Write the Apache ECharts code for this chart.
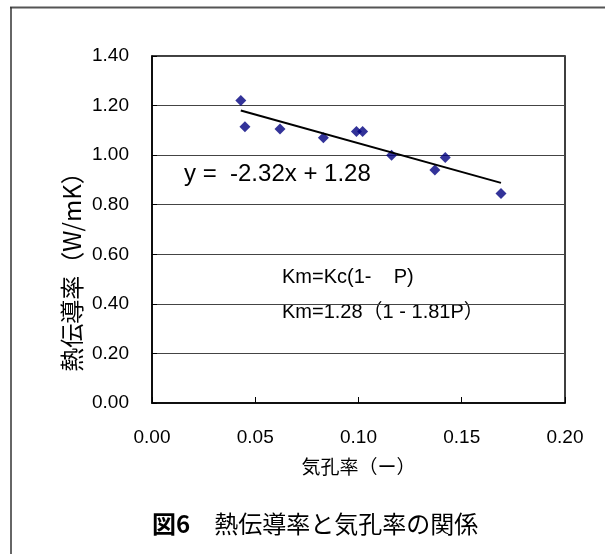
<!DOCTYPE html>
<html>
<head>
<meta charset="utf-8">
<script src="https://cdn.jsdelivr.net/npm/echarts@6/dist/echarts.min.js"></script>
<style>
  html, body { margin: 0; padding: 0; background: #fff; }
  #chart { width: 605px; height: 554px; }
</style>
</head>
<body>
<div id="chart"></div>
<script>
// 気孔率 (x) と 熱伝導率 (y)
var porosity = [0.043, 0.045, 0.062, 0.083, 0.099, 0.102, 0.116, 0.137, 0.142, 0.169];
var conductivity = [1.22, 1.115, 1.105, 1.07, 1.095, 1.095, 1.0, 0.94, 0.99, 0.845];

// 近似直線の両端
var trendX = [0.043, 0.169];
var trendY = [1.18, 0.888];

var xTicks = ['0.00', '0.05', '0.10', '0.15', '0.20'];
var yTicks = ['0.00', '0.20', '0.40', '0.60', '0.80', '1.00', '1.20', '1.40'];

var latin = "'Liberation Sans', Arial, 'Noto Sans CJK JP', sans-serif";
var jp = "'Noto Sans CJK JP', sans-serif";

var points = porosity.map(function (x, i) { return [x, conductivity[i]]; });
var trend = trendX.map(function (x, i) { return [x, trendY[i]]; });

var myChart = echarts.init(document.getElementById('chart'));
var option = {
  backgroundColor: '#fff',
  animation: false,
  grid: {
    left: 152, top: 56, right: 40, bottom: 151,
    show: true, borderColor: '#000', borderWidth: 1.5
  },
  xAxis: {
    type: 'value', min: 0, max: 0.2, interval: 0.05,
    axisLine: { lineStyle: { color: '#000', width: 1.5 } },
    axisTick: { inside: true, length: 6, lineStyle: { color: '#000' } },
    axisLabel: {
      margin: 25, fontSize: 19, fontFamily: latin, color: '#000',
      formatter: function (v) { return xTicks[Math.round(v / 0.05)]; }
    },
    splitLine: { show: false },
    name: '気孔率（ー）', nameLocation: 'middle', nameGap: 54,
    nameTextStyle: { fontSize: 19, fontFamily: jp, color: '#000' }
  },
  yAxis: {
    type: 'value', min: 0, max: 1.4, interval: 0.2,
    axisLine: { show: true, lineStyle: { color: '#000', width: 1.5 } },
    axisTick: { inside: true, length: 5, lineStyle: { color: '#000' } },
    axisLabel: {
      margin: 23, fontSize: 19, fontFamily: latin, color: '#000',
      formatter: function (v) { return yTicks[Math.round(v / 0.2)]; }
    },
    splitLine: { show: true, lineStyle: { color: '#444', width: 1 } }
  },
  series: [
    {
      type: 'scatter', data: points, symbol: 'diamond', symbolSize: 11,
      itemStyle: { color: '#000080' }, z: 3
    },
    {
      type: 'line', data: trend, symbol: 'none',
      lineStyle: { color: '#000', width: 2 }, z: 4
    }
  ],
  graphic: [
    // 外枠
    { type: 'line', shape: { x1: 10, y1: 7.5, x2: 605, y2: 7.5 }, style: { stroke: '#555', lineWidth: 2 } },
    { type: 'line', shape: { x1: 11, y1: 7, x2: 11, y2: 554 }, style: { stroke: '#333', lineWidth: 1.5 } },
    // 縦軸名
    {
      type: 'text', x: 72, y: 266, rotation: Math.PI / 2,
      style: { text: '熱伝導率（W/mK）', font: '24px ' + jp, fill: '#000', align: 'center', verticalAlign: 'middle' }
    },
    // 近似式
    {
      type: 'text', x: 184, y: 174,
      style: { text: 'y =  -2.32x + 1.28', font: '24px ' + latin, fill: '#000', verticalAlign: 'middle' }
    },
    {
      type: 'text', x: 282, y: 277,
      style: { text: 'Km=Kc(1-    P)', font: '20px ' + latin, fill: '#000', verticalAlign: 'middle' }
    },
    {
      type: 'text', x: 282, y: 312,
      style: { text: 'Km=1.28（1 - 1.81P）', font: '20px ' + latin, fill: '#000', verticalAlign: 'middle' }
    },
    // 図タイトル
    {
      type: 'text', x: 152, y: 524,
      style: {
        text: '{b|図6}{n|　熱伝導率と気孔率の関係}',
        verticalAlign: 'middle',
        rich: {
          b: { font: 'bold 24px ' + jp, fill: '#000' },
          n: { font: '24px ' + jp, fill: '#000' }
        }
      }
    }
  ]
};
myChart.setOption(option);
</script>
</body>
</html>
